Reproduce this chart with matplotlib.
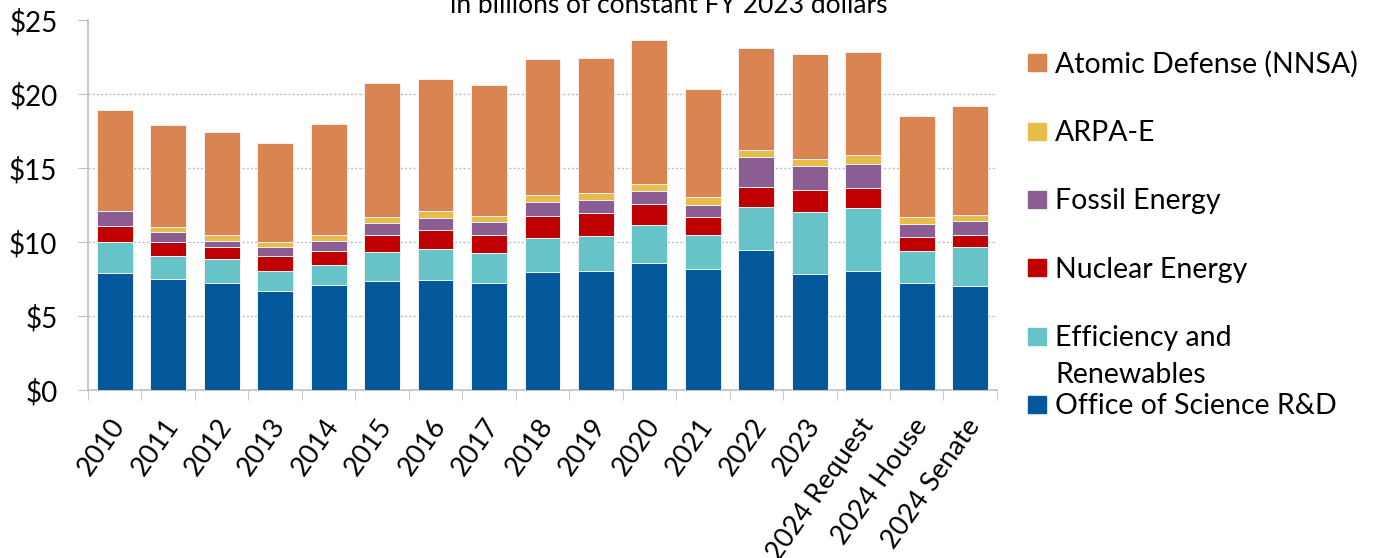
import numpy as np
import matplotlib
matplotlib.use("Agg")
import matplotlib.pyplot as plt
import matplotlib.transforms as mtransforms
from matplotlib.patches import Rectangle

plt.rcParams['font.family'] = ['Lato', 'DejaVu Sans']

# DOE R&D by program, billions of constant FY 2023 dollars
years = ["2010", "2011", "2012", "2013", "2014", "2015", "2016", "2017", "2018",
         "2019", "2020", "2021", "2022", "2023", "2024 Request", "2024 House",
         "2024 Senate"]

science = [7.95, 7.55, 7.24, 6.74, 7.12, 7.39, 7.48, 7.28, 8.02, 8.09, 8.63, 8.22,
           9.51, 7.87, 8.09, 7.28, 7.06]
efficiency = [2.10, 1.51, 1.66, 1.33, 1.33, 1.94, 2.07, 2.03, 2.26, 2.32, 2.52, 2.28,
              2.90, 4.20, 4.21, 2.12, 2.61]
nuclear = [1.08, 0.94, 0.81, 1.03, 0.97, 1.19, 1.27, 1.21, 1.52, 1.60, 1.44, 1.24,
           1.35, 1.49, 1.39, 0.94, 0.81]
fossil = [0.97, 0.72, 0.38, 0.57, 0.65, 0.77, 0.85, 0.86, 0.91, 0.87, 0.90, 0.81,
          2.03, 1.62, 1.60, 0.92, 0.94]
arpae = [0.00, 0.30, 0.41, 0.38, 0.41, 0.43, 0.45, 0.40, 0.47, 0.45, 0.47, 0.52,
         0.45, 0.45, 0.63, 0.46, 0.43]
nnsa = [6.82, 6.93, 6.95, 6.66, 7.52, 9.02, 8.93, 8.87, 9.22, 9.10, 9.71, 7.27,
        6.87, 7.09, 6.96, 6.79, 7.36]

series = [
    ("Office of Science R&D", science, "#03589B"),
    ("Efficiency and\nRenewables", efficiency, "#66C3C7"),
    ("Nuclear Energy", nuclear, "#C00000"),
    ("Fossil Energy", fossil, "#8B5D92"),
    ("ARPA-E", arpae, "#E8BC4B"),
    ("Atomic Defense (NNSA)", nnsa, "#DA8452"),
]

fig = plt.figure(figsize=(13.77, 5.58), dpi=100)
ax = fig.add_axes([0.0639, 0.3002, 0.6601, 0.6634])

x = np.arange(len(years))
bottom = np.zeros(len(years))
for name, vals, col in series:
    ax.bar(x, vals, 0.67, bottom=bottom, color=col, edgecolor="#f2f2f2",
           linewidth=0.7, zorder=3)
    bottom += np.array(vals)

ax.set_xlim(-0.5, len(years) - 0.5)
ax.set_ylim(0, 25)
ax.set_yticks([0, 5, 10, 15, 20, 25])
ax.set_yticklabels(["$0", "$5", "$10", "$15", "$20", "$25"], fontsize=20)
for y in [5, 10, 15, 20]:
    ax.axhline(y, color="#bdbdbd", linestyle=(0, (1.5, 1.5)), linewidth=1.0, zorder=1)

ax.set_xticks(x)
ax.set_xticklabels(years, fontsize=19.5, rotation=55, ha="right", va="center",
                   rotation_mode="anchor")
ax.set_xticks(np.arange(len(years) + 1) - 0.5, minor=True)
ax.tick_params(axis="x", which="major", length=0, pad=22)
ax.tick_params(axis="x", which="minor", length=7, color="#bfbfbf")
ax.tick_params(axis="y", length=7, color="#bfbfbf", pad=15)
shift = mtransforms.ScaledTranslation(5 / 100, 0, fig.dpi_scale_trans)
for lbl in ax.get_xticklabels():
    lbl.set_transform(lbl.get_transform() + shift)

for s in ["top", "right"]:
    ax.spines[s].set_visible(False)
for s in ["left", "bottom"]:
    ax.spines[s].set_color("#bfbfbf")
    ax.spines[s].set_linewidth(1.2)

fig.text(669 / 1377, 1 - 13 / 558, "in billions of constant FY 2023 dollars",
         fontsize=19, ha="center", va="baseline")

# legend drawn at the right, top entry first
W, H = 1377, 558
rows = [62.5, 131, 199.3, 267.7, 336, 404.3]
for (name, vals, col), yc in zip(series[::-1], rows):
    fig.patches.append(Rectangle((1028 / W, 1 - (yc + 8.5) / H), 18 / W, 17 / H,
                                 transform=fig.transFigure, color=col))
    lines = name.split("\n")
    fig.text(1055 / W, 1 - (yc + 10) / H, lines[0], fontsize=20.5, ha="left",
             va="baseline")
    if len(lines) > 1:
        fig.text(1055 / W, 1 - (yc + 47) / H, lines[1], fontsize=20.5, ha="left",
                 va="baseline")

fig.savefig("out.png", dpi=100)
